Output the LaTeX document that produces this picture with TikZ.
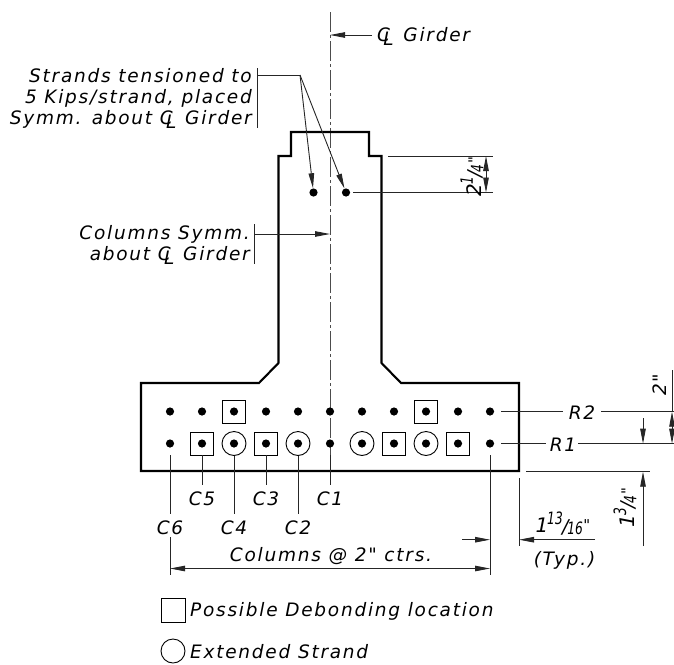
\documentclass[tikz,border=0pt]{standalone}
\usepackage{fontspec}
\setmainfont[LetterSpace=9.5,Ligatures=TeXOff]{DejaVu Sans}
\newfontfamily\dimfont[Ligatures=TeXOff]{DejaVu Sans}
\newfontfamily\fracfont[Ligatures=TeXOff,FakeStretch=.72]{DejaVu Sans}
\usetikzlibrary{arrows.meta}
\newcommand{\clmark}{\mbox{\rlap{C}\kern.34em\raisebox{-.26em}{L}\kern.06em}}
\newcommand{\stackfrac}[3]{{\dimfont\itshape\fontsize{20}{20}\selectfont #1\kern-.06em\raisebox{.42em}{\fracfont\itshape\fontsize{17}{15}\selectfont #2}\kern-.03em\raisebox{-.02em}{\fontsize{19}{19}\selectfont /}\kern-.06em\raisebox{-.1em}{\fracfont\itshape\fontsize{17}{15}\selectfont #3}\kern.02em\raisebox{.1em}{\fontsize{15}{16}\selectfont "}}}
\tikzset{
  x=1pt,y=-1pt,
  thin line/.style={line width=.9pt,draw=black!85},
  outline/.style={line width=2.1pt,line join=miter},
  dimline/.style={thin line,-{Triangle[length=15pt,width=5.5pt]}},
  dimboth/.style={thin line,{Triangle[length=15pt,width=5.5pt]}-{Triangle[length=15pt,width=5.5pt]}},
  label/.style={inner sep=0pt,yshift=-1.5pt,font=\fontsize{18.5}{21}\selectfont\itshape},
  strand/.style={circle,fill=black,inner sep=0pt,minimum size=8.2pt},
  sqbox/.style={draw=black,line width=.9pt,inner sep=0pt,minimum size=23pt},
  rdbox/.style={circle,draw=black,line width=.9pt,inner sep=0pt,minimum size=24pt},
  center line/.style={line width=.9pt,draw=black!70,dash pattern=on 20pt off 3pt on 3pt off 3pt},
}
\begin{document}
\begin{tikzpicture}
\useasboundingbox (0,0) rectangle (674,664);
% centre line
\draw[center line] (330,12) -- (330,470);
% section
\draw[outline] (291,132) -- (369,132) -- (369,156) -- (381.5,156) -- (381.5,363) -- (401,383) -- (519,383) -- (519,471) -- (141,471) -- (141,383) -- (259,383) -- (278.5,363) -- (278.5,156) -- (291,156) -- cycle;
% strands, upper
\node[strand] (u1) at (313.5,192.5) {};
\node[strand] (u2) at (346,192.5) {};
% rows
\foreach \n/\x in {1/170,2/202,3/234,4/266,5/298,6/330,7/362,8/394,9/426,10/458,11/490}{
  \node[strand] (a\n) at (\x,411.5) {};
  \node[strand] (b\n) at (\x,443.5) {};
}
\node[sqbox] (sa3) at (234,411.5) {};
\node[sqbox] (sa9) at (426,411.5) {};
\foreach \n/\x in {2/202,4/266,8/394,10/458}{\node[sqbox] (sb\n) at (\x,443.5) {};}
\foreach \n/\x in {3/234,5/298,7/362,9/426}{\node[rdbox] (cb\n) at (\x,443.5) {};}
% top labels
\node[label,anchor=west] (clg) at (377,35) {\clmark\ \kern.05em Girder};
\coordinate (clgs) at (372,35);
\coordinate (clgt) at (330,35);
\draw[dimline] (clgs) -- (clgt);
\node[label,align=right,anchor=east] (strandtxt) at (252,97) {Strands tensioned to\\5 Kips/strand, placed\\Symm. about \clmark\ Girder};
\draw[thin line] (257,68) -- (257,128);
\coordinate (lead) at (300,75);
\draw[thin line] (257,75) -- (lead);
\draw[dimline] (lead) -- (u1);
\draw[dimline] (lead) -- (u2);
\node[label,align=right,anchor=east] (colstxt) at (250,243.5) {Columns Symm.\\about \clmark\ Girder};
\draw[thin line] (254.5,224) -- (254.5,264);
\coordinate (colcl) at (330,234);
\draw[dimline] (254.5,234) -- (colcl);
% 2 1/4 dimension
\draw[thin line] (388,156) -- (493,156);
\draw[thin line] (353,192.5) -- (493,192.5);
\draw[dimboth] (486,156) -- (486,192.5);
\node[label,rotate=90] (d214) at (472,175) {\stackfrac{2}{1}{4}};
% column leaders
\node[label] (c5) at (202,497) {C5};
\node[label] (c3) at (266,497) {C3};
\node[label] (c1) at (330,497) {C1};
\node[label] (c6) at (170,526) {C6};
\node[label] (c4) at (234,526) {C4};
\node[label] (c2) at (298,526) {C2};
\draw[thin line] (170,455) -- (170,514);
\draw[thin line] (sb2.south) -- (202,485);
\draw[thin line] (cb3.south) -- (234,514);
\draw[thin line] (sb4.south) -- (266,485);
\draw[thin line] (cb5.south) -- (298,514);
\draw[thin line] (330,455) -- (330,485);
% columns dimension
\draw[thin line] (170,537) -- (170,575);
\draw[thin line] (490,455) -- (490,575);
\coordinate (cl) at (170,568.5);
\coordinate (cr) at (490,568.5);
\draw[dimboth] (cl) -- (cr);
\node[label] (colsp) at (331,555) {Columns @ 2" ctrs.};
% 1 13/16
\draw[dimline] (462,539.7) -- (490,539.7);
\draw[thin line] (519,478) -- (519,546);
\draw[dimline] (595,539.7) -- (519,539.7);
\node[label] (d1316) at (563,522) {\stackfrac{1}{13}{16}};
\node[label] (typ) at (564.5,559) {(Typ.)};
% R labels
\node[label] (r2) at (582,411.5) {R2};
\node[label] (r1) at (563,443.5) {R1};
\draw[thin line] (501,411.7) -- (563,411.7);
\draw[thin line] (601,411.7) -- (674,411.7);
\draw[thin line] (501,443.7) -- (546,443.7);
\draw[thin line] (578,443.7) -- (674,443.7);
% right dimensions
\draw[thin line] (526,471.7) -- (650,471.7);
\draw[dimline] (643,418) -- (643,443.7);
\draw[dimline] (643,546) -- (643,471.7);
\node[label,rotate=90] (d134) at (625,506) {\stackfrac{1}{3}{4}};
\draw[dimboth] (672,411.7) -- (672,443.7);
\draw[thin line] (672,370) -- (672,411.7);
\node[label,rotate=90] (d2) at (660,383) {2"};
% legend
\node[sqbox,minimum size=24pt] (lsq) at (173,610) {};
\node[label,anchor=west] (lsqt) at (190,610) {Possible Debonding location};
\node[rdbox] (lci) at (173,651) {};
\node[label,anchor=west] (lcit) at (190,650) {Extended Strand};
\end{tikzpicture}
\end{document}
